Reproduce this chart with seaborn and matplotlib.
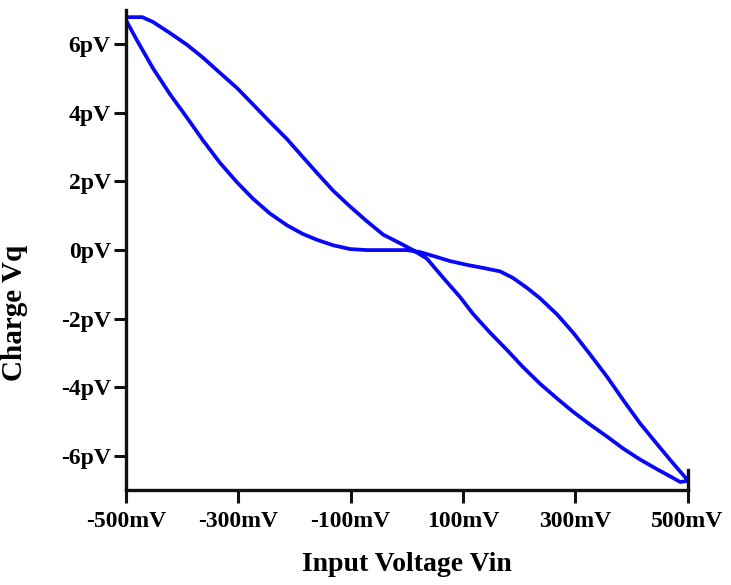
import matplotlib
matplotlib.use("Agg")
import matplotlib.pyplot as plt
import seaborn as sns
import pandas as pd

# branch going down through the upper-left and lower-right side of the loop
vin_a = [-500, -471, -452, -422, -391, -363, -333, -302, -274, -244, -213, -185,
         -155, -131, -101, -71, -42, -12, 11, 36, 65, 95, 118, 148, 179, 207,
         237, 268, 296, 326, 357, 385, 415, 446, 474, 487, 499]
vq_a = [6.79, 6.79, 6.65, 6.33, 5.98, 5.61, 5.17, 4.72, 4.25, 3.74, 3.23, 2.71,
        2.16, 1.73, 1.27, 0.84, 0.45, 0.20, 0.0, -0.25, -0.81, -1.37, -1.86, -2.40,
        -2.92, -3.41, -3.89, -4.33, -4.71, -5.08, -5.44, -5.78, -6.10, -6.39,
        -6.64, -6.76, -6.73]

# branch through the lower-left flat part and upper-right side
vin_b = [-500, -480, -452, -422, -391, -363, -333, -302, -274, -244, -213, -185,
         -160, -131, -101, -71, -42, 0, 24, 47, 77, 107, 136, 166, 189, 214, 237,
         268, 296, 326, 357, 385, 415, 446, 474, 499]
vq_b = [6.70, 6.10, 5.30, 4.55, 3.85, 3.20, 2.55, 1.97, 1.50, 1.07, 0.72, 0.47,
        0.30, 0.14, 0.03, 0.0, 0.0, 0.0, -0.06, -0.17, -0.32, -0.43, -0.52, -0.62,
        -0.81, -1.10, -1.40, -1.88, -2.40, -3.03, -3.70, -4.36, -5.04, -5.66,
        -6.21, -6.68]

x_ticks = [-500, -300, -100, 100, 300, 500]
x_labels = ["-500mV", "-300mV", "-100mV", "100mV", "300mV", "500mV"]
y_ticks = [6, 4, 2, 0, -2, -4, -6]
y_labels = ["6pV", "4pV", "2pV", "0pV", "-2pV", "-4pV", "-6pV"]

# one closed loop: out along branch a, back along branch b
df = pd.DataFrame({
    "Vin": vin_a + vin_b[::-1],
    "Vq": vq_a + vq_b[::-1],
})

sns.set_style("ticks")
plt.rcParams["font.family"] = ["Liberation Serif", "DejaVu Serif"]
plt.rcParams["font.weight"] = "bold"
plt.rcParams["text.color"] = "black"
plt.rcParams["axes.labelcolor"] = "black"
plt.rcParams["xtick.color"] = "black"
plt.rcParams["ytick.color"] = "black"

fig = plt.figure(figsize=(7.31, 5.85), dpi=100)
ax = fig.add_axes([0.1724, 0.162, 0.7681, 0.821])

sns.lineplot(data=df, x="Vin", y="Vq", sort=False, estimator=None,
             color="#0808f5", linewidth=2.7, ax=ax)

ax.set_xlim(-500, 500)
ax.set_ylim(-7, 7)
ax.set_xticks(x_ticks)
ax.set_xticklabels(x_labels, fontsize=17, fontweight="bold")
ax.set_yticks(y_ticks)
ax.set_yticklabels(y_labels, fontsize=17, fontweight="bold")
ax.tick_params(axis="both", direction="out", length=9, width=2.2, color="#111111", pad=2)
ax.tick_params(axis="x", pad=6)

for side in ["left", "bottom", "right"]:
    ax.spines[side].set_linewidth(2.4)
    ax.spines[side].set_color("#111111")
ax.spines["top"].set_visible(False)
# only a short stub of the right frame shows in the original
ax.spines["right"].set_bounds(-7, -6.4)

ax.set_xlabel("Input Voltage Vin", fontsize=20, fontweight="bold", labelpad=14)
ax.set_ylabel("Charge Vq", fontsize=21, fontweight="bold", labelpad=10)
ax.yaxis.set_label_coords(-0.175, 0.37)

fig.savefig("out.png", dpi=100, facecolor="white")
